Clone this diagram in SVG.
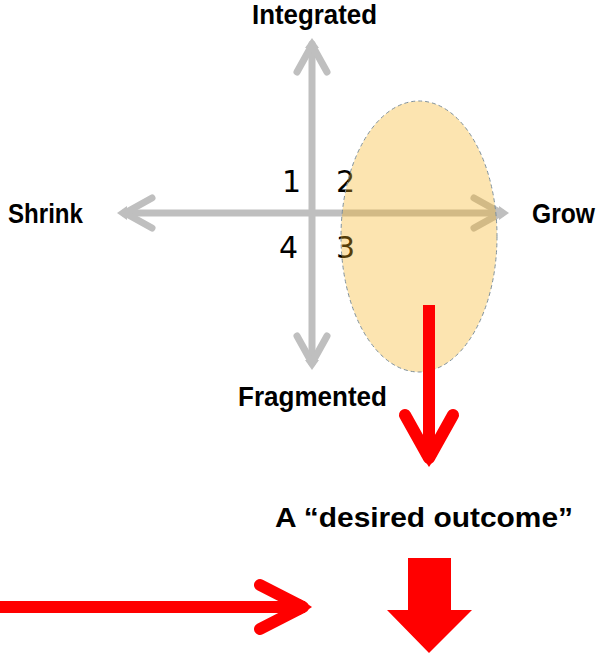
<svg xmlns="http://www.w3.org/2000/svg" width="601" height="655" viewBox="0 0 601 655">
<style>
.lbl{font-family:"Liberation Sans",Arial,sans-serif;font-weight:bold;font-size:27px;fill:#000}
.num{font-family:"DejaVu Sans",Verdana,sans-serif;font-size:30px;fill:#000}
.axis{stroke:#BFBFBF;stroke-width:7;fill:none;stroke-linecap:round}
.red{stroke:#FF0000;stroke-width:12;fill:none}
</style>
<rect width="601" height="655" fill="#fff"/>
<g id="connectors">
  <g id="vertical-axis">
    <line class="axis" x1="312" y1="44" x2="312" y2="363" stroke-linecap="butt"/>
    <path class="axis" d="M297,72 L312,45 L327,72" stroke-linejoin="round"/>
    <path class="axis" d="M297,336 L312,363 L327,336" stroke-linejoin="round"/>
    <polygon points="305,48 312,38 319,48" fill="#BFBFBF"/>
    <polygon points="305,360 312,370 319,360" fill="#BFBFBF"/>
  </g>
  <g id="horizontal-axis">
    <line class="axis" x1="124" y1="213" x2="502" y2="213" stroke-linecap="butt"/>
    <path class="axis" d="M152,198 L125,213 L152,228" stroke-linejoin="round"/>
    <path class="axis" d="M474,198 L501,213 L474,228" stroke-linejoin="round"/>
    <polygon points="127,206 117,213 127,220" fill="#BFBFBF"/>
    <polygon points="499,206 509,213 499,220" fill="#BFBFBF"/>
  </g>
</g>
<g id="quadrant-labels">
  <text class="num" x="282" y="192">1</text>
  <text class="num" x="336" y="192">2</text>
  <text class="num" x="279" y="258">4</text>
  <text class="num" x="336" y="258">3</text>
</g>
<g id="target-ellipse">
  <ellipse cx="419" cy="236.5" rx="78" ry="135.5" fill="#F6B21E" fill-opacity="0.35" stroke="#7F919C" stroke-width="1" stroke-dasharray="4,3"/>
</g>
<g id="labels">
  <text class="lbl" x="314.5" y="24" text-anchor="middle" textLength="125" lengthAdjust="spacingAndGlyphs">Integrated</text>
  <text class="lbl" x="8" y="223" textLength="75" lengthAdjust="spacingAndGlyphs">Shrink</text>
  <text class="lbl" x="532" y="223" textLength="63" lengthAdjust="spacingAndGlyphs">Grow</text>
  <text class="lbl" x="238" y="406" textLength="149" lengthAdjust="spacingAndGlyphs">Fragmented</text>
  <text class="lbl" x="275" y="527" font-size="28" textLength="298" lengthAdjust="spacingAndGlyphs">A “desired outcome”</text>
</g>
<g id="red-arrows">
  <g id="red-down-arrow">
    <line class="red" x1="429" y1="305" x2="429" y2="460"/>
    <path d="M405,415 L429,458 L453,415" stroke="#FF0000" stroke-width="12" fill="none" stroke-linecap="round" stroke-linejoin="round"/>
    <polygon points="421,455 429,467 437,455" fill="#FF0000"/>
  </g>
  <g id="red-right-arrow">
    <line class="red" x1="0" y1="607" x2="305" y2="607"/>
    <path d="M260,585 L303,607 L260,629" stroke="#FF0000" stroke-width="12" fill="none" stroke-linecap="round" stroke-linejoin="round"/>
    <polygon points="300,599 312,607 300,615" fill="#FF0000"/>
  </g>
  <g id="block-down-arrow">
    <polygon points="408,558 451,558 451,610 472,610 429,653 387,610 408,610" fill="#FF0000"/>
  </g>
</g>
</svg>
